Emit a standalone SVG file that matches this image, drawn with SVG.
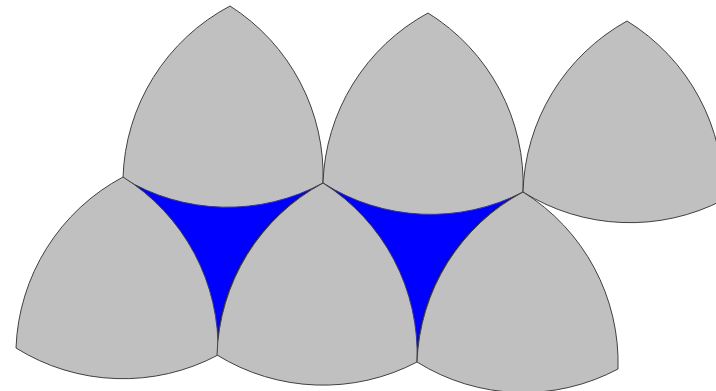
<svg xmlns="http://www.w3.org/2000/svg" width="716" height="391" viewBox="0 0 716 391">
<style>
.r{fill:#c0c0c0;stroke:#404040;stroke-width:1;stroke-linejoin:miter}
.b{fill:#0000ff;stroke:none}
</style>
<rect x="0" y="0" width="716" height="391" fill="#ffffff"/>
<g id="gaps">
<polygon class="b" points="123,178 323,183 218,355"/>
<polygon class="b" points="323,183 523,192 417,362"/>
</g>
<g id="t1"><path class="r" d="M123,178 A201,201 0 0 1 230,6 A201,201 0 0 1 323,183 A201,201 0 0 1 123,178 Z"/></g>
<g id="t2"><path class="r" d="M323,183 A201,201 0 0 1 428,13 A201,201 0 0 1 523,192 A201,201 0 0 1 323,183 Z"/></g>
<g id="t3"><path class="r" d="M523,192 A202,202 0 0 1 627,21 A202,202 0 0 1 723,200 A202,202 0 0 1 523,192 Z"/></g>
<g id="b1"><path class="r" d="M16,348 A202,202 0 0 1 123,177 A202,202 0 0 1 218,355 A202,202 0 0 1 16,348 Z"/></g>
<g id="b2"><path class="r" d="M217,355 A202,202 0 0 1 323,183 A202,202 0 0 1 417,362 A202,202 0 0 1 217,355 Z"/></g>
<g id="b3"><path class="r" d="M417,362 A201,201 0 0 1 523,192 A201,201 0 0 1 618,369 A201,201 0 0 1 417,362 Z"/></g>
</svg>
